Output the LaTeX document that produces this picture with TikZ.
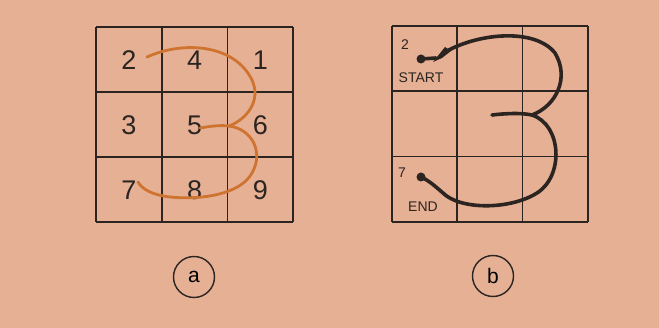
\documentclass[tikz,border=0pt]{standalone}
\usepackage{fontspec}
\setmainfont{Liberation Sans}
\definecolor{paperTan}{HTML}{E6B095}
\definecolor{penOrange}{HTML}{CF7430}
\definecolor{inkDark}{HTML}{2B2420}
\usetikzlibrary{positioning}

\begin{document}
\begin{tikzpicture}[x=1pt, y=-1pt,
    gridline/.style={draw=inkDark, line width=1.7pt},
    digit/.style={font=\fontsize{27}{27}\selectfont, text=inkDark, inner sep=0pt},
    tag/.style={font=\fontsize{14}{14}\selectfont, text=inkDark, inner sep=0pt},
    pen/.style={line width=2.8pt, line cap=round, line join=round},
    dotmark/.style={circle, fill=inkDark, minimum size=9pt, inner sep=0pt},
    badge/.style={circle, draw=inkDark, line width=1.4pt, minimum size=41pt,
                  inner sep=0pt, font=\fontsize{21}{21}\selectfont}]
  % paper
  \fill[paperTan] (0,0) rectangle (659,328);
  \useasboundingbox (0,0) rectangle (659,328);

  % grid (a)
  \foreach \i in {0,...,3} {
    \draw[gridline] (96+\i*65.7,27) -- (96+\i*65.7,222);
    \draw[gridline] (96,27+\i*65) -- (293,27+\i*65);
  }
  \foreach \d [count=\k from 0] in {2,4,1,3,5,6,7,8,9} {
    \pgfmathtruncatemacro\col{mod(\k,3)}
    \pgfmathtruncatemacro\row{div(\k,3)}
    \node[digit] (a\d) at (129+\col*65.7, 60+\row*65) {\d};
  }

  % stroke (a)
  \draw[pen, penOrange] (147,57) .. controls (185,40) and (235,45) .. (252,80)
        .. controls (262,102) and (245,120) .. (229,126);
  \draw[pen, penOrange] (200,128) .. controls (212,126) and (220,125) .. (229,126);
  \draw[pen, penOrange] (229,126) .. controls (252,129) and (264,152) .. (252,173)
        .. controls (240,195) and (200,200) .. (170,197)
        .. controls (152,195) and (142,189) .. (138,182);

  % grid (b)
  \foreach \i in {0,...,3} {
    \draw[gridline] (392+\i*65.3,26) -- (392+\i*65.3,222);
    \draw[gridline] (392,26+\i*65.3) -- (588,26+\i*65.3);
  }
  \node[tag] (num2) at (405,45) {2};
  \node[tag] (start) at (421,78) {START};
  \node[tag] (num7) at (402,173) {7};
  \node[tag] (end) at (423,207) {END};
  \node[dotmark] (startdot) at (421,59) {};
  \node[dotmark] (enddot) at (421,177) {};

  % stroke (b)
  \draw[pen, line width=3.6pt, inkDark] (startdot.center) -- (436,58);
  \fill[inkDark] (433,62) -- (445,47) -- (451,51) -- (442,58) -- cycle;
  \draw[pen, line width=3.6pt, inkDark] (447,51) .. controls (480,33) and (535,28) .. (555,53)
        .. controls (570,78) and (556,106) .. (532,115);
  \draw[pen, line width=3.6pt, inkDark] (492,115) .. controls (510,113) and (522,113) .. (532,115);
  \draw[pen, line width=3.6pt, inkDark] (532,115) .. controls (562,125) and (564,176) .. (537,193)
        .. controls (510,210) and (460,210) .. (443,193)
        .. controls (435,186) and (428,180) .. (enddot.center);

  % captions
  \node[badge] (capA) at (194,277) {a};
  \node[badge] (capB) at (493,276) {b};
\end{tikzpicture}
\end{document}
